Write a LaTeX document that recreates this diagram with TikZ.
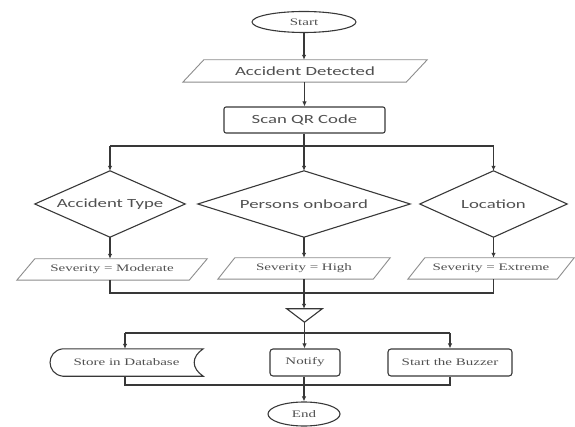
\documentclass[tikz,border=0pt]{standalone}
\usepackage{fontspec}
\usepackage{graphicx}
\setmainfont{Liberation Serif}
\newfontfamily\calfont{Carlito}
\usetikzlibrary{shapes.geometric,arrows.meta,calc}
\definecolor{ln}{HTML}{383838}
\definecolor{lt}{HTML}{8C8C8C}
\definecolor{tx}{HTML}{505050}
\newcommand{\hs}[1]{\scalebox{1.5}[1]{#1}}
\begin{document}
\begin{tikzpicture}[x=1pt,y=-1pt,
  frame/.style={rectangle,draw=none,inner sep=0pt,minimum width=#1},
  sans/.style={text=tx,font=\calfont\fontsize{12.5}{14}\selectfont},
  serif/.style={text=tx,font=\fontsize{10}{12}\selectfont},
  lnst/.style={ln,line width=1.2pt},
  outl/.style={ln,line width=1.1pt},
  light/.style={lt,line width=0.9pt},
  arr/.style={lnst,-{Latex[length=5pt,width=4.5pt]}}]
\useasboundingbox (0,0) rectangle (575,427);

% start / end
\node[ellipse,draw=ln,line width=1.1pt,inner sep=0pt,minimum width=104pt,minimum height=21pt,serif] (start) at (304,22) {\hs{Start}};
\node[ellipse,draw=ln,line width=1.1pt,inner sep=0pt,minimum width=72pt,minimum height=24pt,serif] (end) at (304,414) {\hs{End}};

% accident detected
\node[frame=244pt,minimum height=22pt,sans] (ad) at (305,71) {\hs{Accident Detected}};
\draw[light] ($(ad.north west)+(21,0)$) -- (ad.north east) -- ($(ad.south east)+(-21,0)$) -- (ad.south west) -- cycle;

% scan
\node[rectangle,draw=ln,line width=1.1pt,rounded corners=2pt,inner sep=0pt,minimum width=161pt,minimum height=26pt,sans] (scan) at (304.5,120) {\hs{Scan QR Code}};

% diamonds
\node[frame=150pt,minimum height=66pt,sans] (d1) at (110,204) {\hs{Accident Type}};
\node[frame=212pt,minimum height=66pt,sans] (d2) at (304,204) {\hs{Persons onboard}};
\node[frame=147pt,minimum height=66pt,sans] (d3) at (493.5,204) {\hs{Location}};
\foreach \d in {d1,d2,d3}
  \draw[outl] (\d.west) -- (\d.north) -- (\d.east) -- (\d.south) -- cycle;

% severity
\node[frame=190pt,minimum height=21pt,serif] (p1) at (112,269.5) {\hs{Severity = Moderate}};
\node[frame=172pt,minimum height=21pt,serif] (p2) at (304,268.5) {\hs{Severity = High}};
\node[frame=166pt,minimum height=21pt,serif] (p3) at (491,268.5) {\hs{Severity = Extreme}};
\draw[light] ($(p1.north west)+(18,0)$) -- (p1.north east) -- ($(p1.south east)+(-18,0)$) -- (p1.south west) -- cycle;
\draw[light] ($(p2.north west)+(17,0)$) -- (p2.north east) -- ($(p2.south east)+(-17,0)$) -- (p2.south west) -- cycle;
\draw[light] ($(p3.north west)+(17,0)$) -- (p3.north east) -- ($(p3.south east)+(-17,0)$) -- (p3.south west) -- cycle;

% merge triangle
\node[frame=35pt,minimum height=13pt] (tri) at (304.5,315.5) {};
\draw[outl] (tri.north west) -- (tri.north east) -- (tri.south) -- cycle;

% actions
\node[frame=153pt,minimum height=27pt,serif] (store) at (126.5,362.5) {\hs{Store in Database}};
\draw[outl] ($(store.north west)+(13,0)$) -- (store.north east)
  .. controls ($(store.north east)+(-12,8)$) and ($(store.south east)+(-12,-8)$) .. (store.south east)
  -- ($(store.south west)+(13,0)$)
  .. controls ($(store.south west)+(-4,-2)$) and ($(store.north west)+(-4,2)$) .. ($(store.north west)+(13,0)$) -- cycle;
\node[rectangle,draw=ln,line width=1.1pt,rounded corners=3pt,inner sep=0pt,minimum width=70pt,minimum height=27pt,serif] (notify) at (305,362.5) {\hs{Notify}};
\node[rectangle,draw=ln,line width=1.1pt,rounded corners=3pt,inner sep=0pt,minimum width=124pt,minimum height=27pt,serif] (buzz) at (450,362.5) {\hs{Start the Buzzer}};

% helper rows
\coordinate (r1) at (0,146);
\coordinate (r2) at (0,293);
\coordinate (r3) at (0,333);
\coordinate (r4) at (0,385);

% connectors
\draw[arr] (start.south) -- (start.south |- ad.north);
\draw[arr] (ad.south -| scan.north) -- (scan.north);
\draw[arr] (scan.south -| d2.north) -- (d2.north);
\draw[lnst] (d1.north |- r1) -- (d3.north |- r1);
\draw[arr] (d1.north |- r1) -- (d1.north);
\draw[arr] (d3.north |- r1) -- (d3.north);
\draw[arr] (d1.south) -- (d1.south |- p1.north);
\draw[arr] (d2.south) -- (d2.south |- p2.north);
\draw[arr] (d3.south) -- (d3.south |- p3.north);
\draw[lnst] (d1.south |- p1.south) -- (d1.south |- r2) -- (d3.south |- r2) -- (d3.south |- p3.south);
\draw[arr] (p2.south) -- (p2.south |- tri.north);
\draw[lnst] (tri.south) -- (tri.south |- r3);
\draw[lnst] (125,333) coordinate (s1) -- (buzz.north |- r3);
\draw[arr] (s1) -- (s1 |- store.north);
\draw[arr] (tri.south |- r3) -- (tri.south |- notify.north);
\draw[arr] (buzz.north |- r3) -- (buzz.north);
\draw[lnst] (s1 |- store.south) -- (s1 |- r4) -- (buzz.south |- r4) -- (buzz.south);
\draw[arr] (notify.south -| end.north) -- (end.north);
\end{tikzpicture}
\end{document}
